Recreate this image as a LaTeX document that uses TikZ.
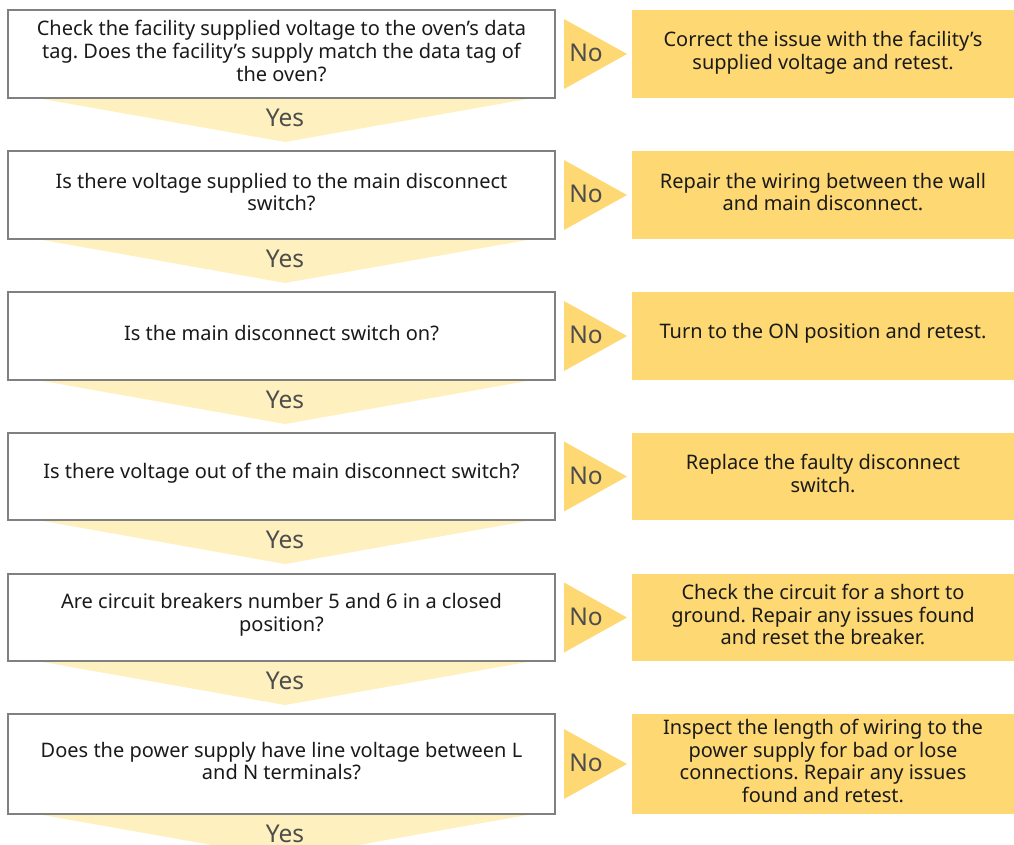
\documentclass[tikz,border=0pt]{standalone}
\usepackage{fontspec}
\setmainfont{Noto Sans}
\frenchspacing
\definecolor{qborder}{HTML}{808080}
\definecolor{gold}{HTML}{FDD873}
\definecolor{paleyellow}{HTML}{FFF1BF}
\definecolor{labelgray}{HTML}{4D4D4D}
\definecolor{inktext}{HTML}{1A1A1A}
\begin{document}
\begin{tikzpicture}[x=1pt,y=-1pt,
  qbox/.style={draw=qborder, line width=1.8pt, fill=white, minimum width=547pt,
    inner sep=0pt},
  abox/.style={fill=gold, minimum width=382pt, inner sep=0pt},
  body/.style={align=center, text=inktext, inner sep=0pt,
    font=\fontsize{20}{22.6}\selectfont},
  ylabel/.style={text=labelgray, inner sep=0pt, font=\fontsize{24.5}{26}\selectfont},
  yeschev/.style={fill=paleyellow},
  nochev/.style={fill=gold}]
\useasboundingbox (0,0) rectangle (1014,844);

% "Yes" chevrons sit behind the question boxes
\foreach \b in {98,239,380,520,661,814}{
  \fill[yeschev] (37,\b) -- (533,\b) -- (285,\b+44) -- cycle;
}

% question boxes (left) and answer boxes (right)
\node[qbox, minimum height=88pt] (q1) at (281.5,54) {};
\node[abox, minimum height=88pt] (a1) at (823,54) {};
\node[qbox, minimum height=88pt] (q2) at (281.5,195) {};
\node[abox, minimum height=88pt] (a2) at (823,195) {};
\node[qbox, minimum height=88pt] (q3) at (281.5,336) {};
\node[abox, minimum height=88pt] (a3) at (823,336) {};
\node[qbox, minimum height=87pt] (q4) at (281.5,476.5) {};
\node[abox, minimum height=87pt] (a4) at (823,476.5) {};
\node[qbox, minimum height=87pt] (q5) at (281.5,617.5) {};
\node[abox, minimum height=87pt] (a5) at (823,617.5) {};
\node[qbox, minimum height=100pt] (q6) at (281.5,764) {};
\node[abox, minimum height=100pt] (a6) at (823,764) {};

% box texts
\node[body] (q1t) at ([yshift=3pt]q1.center)
  {Check the facility supplied voltage to the oven’s data\\tag. Does the facility’s supply match the data tag of\\the oven?};
\node[body] (a1t) at ([yshift=1.5pt]a1.center)
  {Correct the issue with the facility’s\\supplied voltage and retest.};
\node[body] (q2t) at ([yshift=3pt]q2.center)
  {Is there voltage supplied to the main disconnect\\switch?};
\node[body] (a2t) at ([yshift=3pt]a2.center)
  {Repair the wiring between the wall\\and main disconnect.};
\node[body] (q3t) at ([yshift=3pt]q3.center)
  {Is the main disconnect switch on?};
\node[body] (a3t) at ([yshift=3pt]a3.center)
  {Turn to the ON position and retest.};
\node[body] (q4t) at ([yshift=3pt]q4.center)
  {Is there voltage out of the main disconnect switch?};
\node[body] (a4t) at ([yshift=3pt]a4.center)
  {Replace the faulty disconnect\\switch.};
\node[body] (q5t) at ([yshift=3pt]q5.center)
  {Are circuit breakers number 5 and 6 in a closed\\position?};
\node[body] (a5t) at ([yshift=3pt]a5.center)
  {Check the circuit for a short to\\ground. Repair any issues found\\and reset the breaker.};
\node[body] (q6t) at ([yshift=3pt]q6.center)
  {Does the power supply have line voltage between L\\and N terminals?};
\node[body] (a6t) at ([yshift=3pt]a6.center)
  {Inspect the length of wiring to the\\power supply for bad or lose\\connections. Repair any issues\\found and retest.};

% "No" chevrons between the columns
\foreach \c in {54,195,336,476.5,617.5,764}{
  \fill[nochev] (564,\c-35) -- (627,\c) -- (564,\c+35) -- cycle;
}

% labels
\foreach \b/\n in {98/1,239/2,380/3,520/4,661/5,814/6}{
  \node[ylabel] (yes\n) at (285,\b+20) {Yes};
}
\foreach \c/\n in {54/1,195/2,336/3,476.5/4,617.5/5,764/6}{
  \node[ylabel] (no\n) at (586,\c-1) {No};
}
\end{tikzpicture}
\end{document}
